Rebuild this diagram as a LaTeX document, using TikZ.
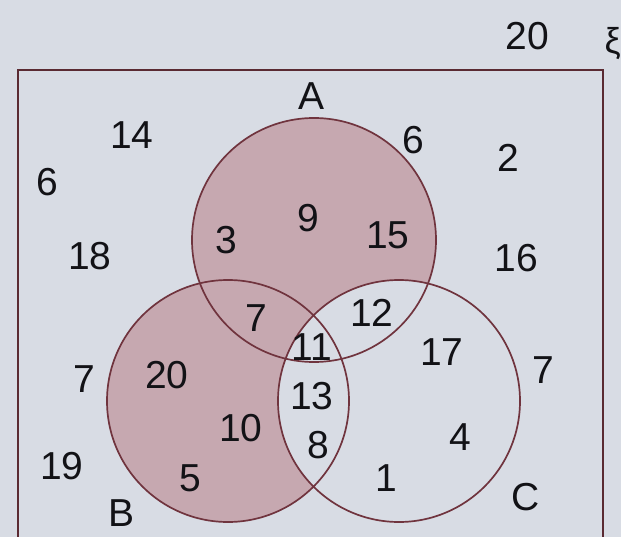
\documentclass[tikz,border=0pt]{standalone}
\usepackage{fontspec}
\setmainfont{Liberation Sans}
\usetikzlibrary{positioning}

\definecolor{paper}{RGB}{216,220,228}
\definecolor{rim}{RGB}{112,52,62}
\definecolor{rose}{RGB}{198,168,176}
\definecolor{ink}{RGB}{18,18,22}

\begin{document}
\begin{tikzpicture}[
    x=1pt, y=-1pt,
    num/.style={text=ink, inner sep=0pt, font=\fontsize{39}{39}\selectfont},
    setname/.style={num},
    ring/.style={draw=rim, line width=1.7pt}
]
\useasboundingbox (0,0) rectangle (621,537);
\fill[paper] (0,0) rectangle (621,537);
% universal set
\draw[rim!80!black, line width=2pt] (18,580) -- (18,70) -- (603,70) -- (603,580);
% sets
\coordinate (cA) at (314,240);
\coordinate (cB) at (228,401);
\coordinate (cC) at (399,401);
\fill[rose] (cA) circle (122) (cB) circle (121);
\fill[paper] (cC) circle (121);
\draw[ring] (cA) circle (122);
\draw[ring] (cB) circle (121);
\draw[ring] (cC) circle (121);

\node[num] (total) at (527,36) {20};
\node[num, font=\fontsize{36}{36}\selectfont, anchor=east] (xi) at (621,44) {ξ};
\node[setname] (labA) at (312,96) {A};
\node[setname] (labB) at (122,513) {B};
\node[setname] (labC) at (526,497) {C};

% outside
\node[num] (o14) at (132,135) {14};
\node[num] (o6) at (47,182) {6};
\node[num] (o6b) at (413,140) {6};
\node[num] (o2) at (508,158) {2};
\node[num] (o18) at (90,256) {18};
\node[num] (o16) at (516,258) {16};
\node[num] (o7) at (84,379) {7};
\node[num] (o7b) at (543,370) {7};
\node[num] (o19) at (62,466) {19};
% A
\node[num] (a3) at (226,240) {3};
\node[num] (a9) at (308,218) {9};
\node[num] (a15) at (388,235) {15};
% overlaps
\node[num] (ab7) at (256,318) {7};
\node[num] (ac12) at (372,313) {12};
\node[num] (abc11) at (312,347) {11};
\node[num] (bc13) at (312,396) {13};
\node[num] (bc8) at (318,445) {8};
% B
\node[num] (b20) at (167,375) {20};
\node[num] (b10) at (241,428) {10};
\node[num] (b5) at (190,478) {5};
% C
\node[num] (c17) at (442,352) {17};
\node[num] (c4) at (460,437) {4};
\node[num] (c1) at (386,478) {1};
\end{tikzpicture}
\end{document}
